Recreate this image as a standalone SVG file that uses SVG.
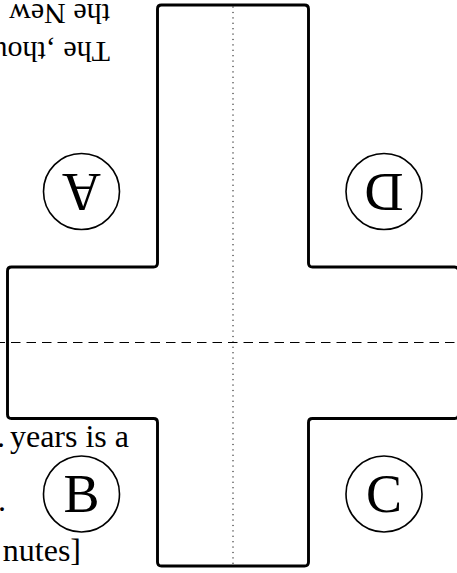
<svg xmlns="http://www.w3.org/2000/svg" width="457" height="573" viewBox="0 0 457 573">
  <style>
    .shape { fill: #ffffff; stroke: #000000; stroke-width: 2.9; }
    .dash { fill: none; stroke: #000000; stroke-width: 1; stroke-dasharray: 9.5 6; stroke-dashoffset: 4.5; }
    .dot { fill: none; stroke: #000000; stroke-width: 1; stroke-dasharray: 1.2 4.2; }
    .ring { fill: #ffffff; stroke: #000000; stroke-width: 1.6; }
    .letter { font-family: "Liberation Serif", "DejaVu Serif", serif; font-size: 54px; text-anchor: middle; fill: #000000; }
    .body { font-family: "Liberation Serif", "DejaVu Serif", serif; fill: #000000; }
  </style>
  <rect x="0" y="0" width="457" height="573" fill="#ffffff"/>

  <g id="text-top" class="body" font-size="30" transform="translate(110,42) rotate(180)">
    <text x="0" y="0">The ‚thou</text>
    <text x="0" y="38">the New ‘</text>
  </g>

  <g id="text-bottom" class="body" font-size="32">
    <text x="-3" y="447">.</text>
    <text x="129" y="447" text-anchor="end">years is a</text>
    <text x="-2" y="511">.</text>
    <text x="81" y="561" text-anchor="end">nutes]</text>
  </g>

  <g id="cross">
    <path class="shape" d="M 161.5 5 H 304.5 Q 308.5 5 308.5 9 V 263 Q 308.5 267 312.5 267 H 454.5 Q 458.5 267 458.5 271 V 414.5 Q 458.5 418.5 454.5 418.5 H 312.5 Q 308.5 418.5 308.5 422.5 V 562 Q 308.5 566 304.5 566 H 161.5 Q 157.5 566 157.5 562 V 422.5 Q 157.5 418.5 153.5 418.5 H 11.5 Q 7.5 418.5 7.5 414.5 V 271 Q 7.5 267 11.5 267 H 153.5 Q 157.5 267 157.5 263 V 9 Q 157.5 5 161.5 5 Z"/>
  </g>

  <g id="connectors">
    <line class="dot" x1="233" y1="6.5" x2="233" y2="564.5"/>
    <line class="dash" x1="0" y1="342.5" x2="457" y2="342.5"/>
  </g>

  <g id="node-A">
    <circle class="ring" cx="81.5" cy="191.5" r="38"/>
    <text class="letter" x="81.5" y="209.5" transform="rotate(180 81.5 191.5)">A</text>
  </g>
  <g id="node-D">
    <circle class="ring" cx="384" cy="191.5" r="38"/>
    <text class="letter" x="384" y="209.5" transform="rotate(180 384 191.5)">D</text>
  </g>
  <g id="node-B">
    <circle class="ring" cx="81.5" cy="494" r="38"/>
    <text class="letter" x="81.5" y="512">B</text>
  </g>
  <g id="node-C">
    <circle class="ring" cx="384" cy="494" r="38"/>
    <text class="letter" x="384" y="512">C</text>
  </g>
</svg>
